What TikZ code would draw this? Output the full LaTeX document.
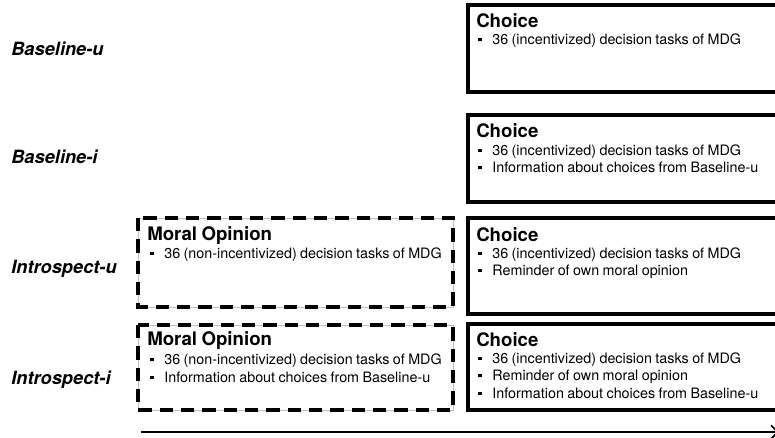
\documentclass[tikz,border=0pt]{standalone}
\usepackage{fontspec}
\setmainfont{TeX Gyre Heros}[WordSpace=0.85]
\usetikzlibrary{arrows.meta}

% small square bullet in front of each task line
\newcommand{\sqbul}{\rule[2pt]{2.6pt}{2.6pt}\hspace{8pt}}

\tikzset{
  choicebox/.style={line width=3pt},
  opinionbox/.style={line width=2.6pt, dash pattern=on 10pt off 6pt},
  opinionedge/.style={draw=black!25, line width=0.4pt},
  grp/.style={font=\fontsize{13.7}{16}\selectfont\bfseries\itshape, anchor=base west, inner sep=0pt},
  ttl/.style={font=\fontsize{14}{16}\selectfont\bfseries, anchor=base west, inner sep=0pt},
  itm/.style={font=\fontsize{10.75}{12}\selectfont, anchor=base west, inner sep=0pt},
}

\begin{document}
\begin{tikzpicture}[x=0.75pt,y=0.75pt,yscale=-1,xscale=1]
\clip (0,0) rectangle (775,437);

% Treatment names
\node[grp] (gBu) at (11,55) {Baseline-u};
\node[grp] (gBi) at (11,163) {Baseline-i};
\node[grp] (gIu) at (11,273) {Introspect-u};
\node[grp] (gIi) at (11,384) {Introspect-i};

%Shape: Rectangle (choice, Baseline-u)
\draw[choicebox] (468,5) rectangle (800,92);
\node[ttl] (chBu) at (476,27) {Choice};
\node[itm] (chBu1) at (478,44) {\sqbul 36 (incentivized) decision tasks of MDG};

%Shape: Rectangle (choice, Baseline-i)
\draw[choicebox] (468,115) rectangle (800,202);
\node[ttl] (chBi) at (476,137) {Choice};
\node[itm] (chBi1) at (478,155) {\sqbul 36 (incentivized) decision tasks of MDG};
\node[itm] (chBi2) at (478,172) {\sqbul Information about choices from Baseline-u};

%Shape: Rectangle (moral opinion, Introspect-u)
\draw[opinionedge] (138,218) rectangle (453,307);
\draw[opinionbox] (138,218) rectangle (453,307);
\node[ttl] (moIu) at (147,240) {Moral Opinion};
\node[itm] (moIu1) at (150,258) {\sqbul 36 (non-incentivized) decision tasks of MDG};

%Shape: Rectangle (choice, Introspect-u)
\draw[choicebox] (468,218) rectangle (800,314);
\node[ttl] (chIu) at (476,241) {Choice};
\node[itm] (chIu1) at (478,258) {\sqbul 36 (incentivized) decision tasks of MDG};
\node[itm] (chIu2) at (478,275) {\sqbul Reminder of own moral opinion};

%Shape: Rectangle (moral opinion, Introspect-i)
\draw[opinionedge] (138,325) rectangle (453,410);
\draw[opinionbox] (138,325) rectangle (453,410);
\node[ttl] (moIi) at (147,345) {Moral Opinion};
\node[itm] (moIi1) at (150,364) {\sqbul 36 (non-incentivized) decision tasks of MDG};
\node[itm] (moIi2) at (150,382) {\sqbul Information about choices from Baseline-u};

%Shape: Rectangle (choice, Introspect-i)
\draw[choicebox] (468,324) rectangle (800,410);
\node[ttl] (chIi) at (476,346) {Choice};
\node[itm] (chIi1) at (478,363) {\sqbul 36 (incentivized) decision tasks of MDG};
\node[itm] (chIi2) at (478,380) {\sqbul Reminder of own moral opinion};
\node[itm] (chIi3) at (478,398) {\sqbul Information about choices from Baseline-u};

% Time axis
\coordinate (tS) at (141,432);
\coordinate (tE) at (779,432);
\draw[-{Straight Barb[length=5pt]}, line width=1.3pt] (tS) -- (tE);

\end{tikzpicture}
\end{document}
